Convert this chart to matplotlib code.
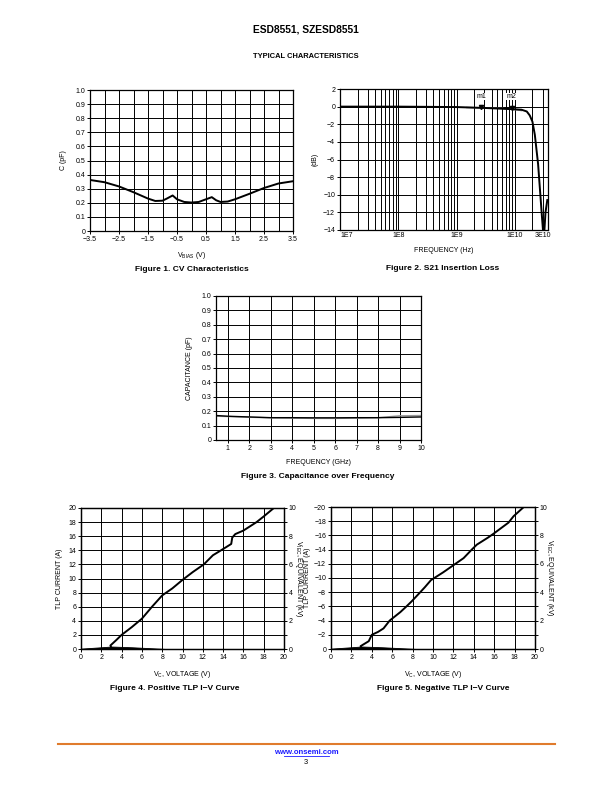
import numpy as np
import matplotlib
matplotlib.use('Agg')
import matplotlib.pyplot as plt
from matplotlib.ticker import MultipleLocator, FixedLocator, NullFormatter, LogLocator

plt.rcParams['font.family'] = ['Liberation Sans', 'DejaVu Sans']
plt.rcParams['axes.unicode_minus'] = True

# Figure 1: CV characteristics
cv_v = [-3.5, -3.0, -2.5, -2.0, -1.5, -1.25, -1.0, -0.85, -0.65, -0.5, -0.25, 0.0,
        0.25, 0.5, 0.7, 0.85, 1.0, 1.25, 1.5, 2.0, 2.5, 3.0, 3.5]
cv_c = [0.362, 0.346, 0.316, 0.275, 0.230, 0.213, 0.215, 0.230, 0.252, 0.225, 0.206, 0.202,
        0.206, 0.225, 0.240, 0.218, 0.206, 0.209, 0.225, 0.264, 0.305, 0.337, 0.353]

# Figure 2: S21 insertion loss
s21_f = [1e7, 1e8, 1e9, 3e9, 1e10, 1.3e10, 1.6e10, 1.8e10, 2.0e10, 2.2e10, 2.5e10,
         2.7e10, 2.9e10, 3.05e10, 3.2e10, 3.35e10, 3.6e10]
s21_db = [0.0, 0.0, -0.05, -0.15, -0.3, -0.35, -0.55, -1.0, -1.7, -3.2, -6.5,
          -9.5, -12.3, -14.2, -14.2, -12.0, -10.6]
s21_gray_f = [1.5e9, 3e9, 6e9, 1e10, 1.3e10]
s21_gray_db = [-0.1, -0.15, -0.2, -0.35, -0.45]
marker_f = [2.66e9, 8.8e9]
marker_db = [-0.05, -0.2]
marker_names = ['m1', 'm2']

# Figure 3: capacitance over frequency
cf_ghz = [0.45, 1, 2, 3, 4, 5, 6, 7, 8, 9, 10]
cf_black = [0.170, 0.165, 0.160, 0.155, 0.155, 0.154, 0.154, 0.155, 0.155, 0.157, 0.160]
cf_gray = [0.165, 0.163, 0.158, 0.154, 0.152, 0.150, 0.150, 0.152, 0.155, 0.168, 0.170]

# Figure 4: positive TLP I-V
pos_v = [3.0, 2.9, 3.5, 4.0, 5.0, 6.0, 7.0, 8.0, 9.0, 10.0, 11.0, 12.1, 13.0, 13.8,
         14.8, 14.9, 15.2, 16.0, 17.3, 18.0, 19.0]
pos_i = [0.1, 0.5, 1.3, 2.0, 3.1, 4.3, 6.0, 7.6, 8.6, 9.8, 10.9, 12.0, 13.3, 14.0,
         14.9, 15.8, 16.3, 16.8, 18.0, 18.8, 20.0]

# Figure 5: negative TLP I-V
neg_v = [3.0, 2.9, 3.7, 4.0, 4.6, 5.15, 5.75, 6.8, 7.4, 7.9, 8.75, 9.2, 9.8, 11.0,
         12.0, 13.0, 13.8, 14.3, 15.4, 15.9, 17.4, 17.9, 18.9]
neg_i = [-0.1, -0.4, -1.1, -2.0, -2.4, -2.9, -4.0, -5.2, -6.0, -6.7, -8.0, -8.7, -9.7,
         -10.8, -11.8, -12.8, -14.0, -14.7, -15.7, -16.2, -17.8, -18.7, -20.0]

# leakage wedge at the bottom of both TLP plots
leak_v = [0.0, 3.0, 5.0, 8.4]
leak_top = [0.05, 0.35, 0.25, 0.0]

W, H = 612, 792
fig = plt.figure(figsize=(W / 100, H / 100), dpi=100)

TS = 5.0
LW = 1.4
GW = 0.7


def add_ax(x0, x1, y0, y1):
    ax = fig.add_axes([x0 / W, 1 - y1 / H, (x1 - x0) / W, (y1 - y0) / H])
    for s in ax.spines.values():
        s.set_linewidth(0.9)
    ax.tick_params(labelsize=TS, length=2, width=0.7, pad=1.5)
    ax.tick_params(which='minor', length=0)
    return ax


def ptext(x, y, s, **kw):
    fig.text(x / W, 1 - y / H, s, **kw)


# header
ptext(306, 30, 'ESD8551, SZESD8551', ha='center', va='center', fontsize=7.4, fontweight='bold')
ptext(306, 57, 'TYPICAL CHARACTERISTICS', ha='center', va='center', fontsize=5.4, fontweight='bold')

# ---- Figure 1
ax1 = add_ax(90, 293, 90, 231)
ax1.plot(cv_v, cv_c, color='black', lw=LW)
ax1.set_xlim(-3.5, 3.5)
ax1.set_ylim(0, 1.0)
ax1.xaxis.set_minor_locator(MultipleLocator(0.5))
ax1.set_xticks(np.arange(-3.5, 3.6, 1.0))
ax1.set_xticklabels(['\u22123.5', '\u22122.5', '\u22121.5', '\u22120.5', '0.5', '1.5', '2.5', '3.5'])
ax1.set_yticks(np.arange(0, 1.01, 0.1))
ax1.set_yticklabels(['0'] + ['%.1f' % v for v in np.arange(0.1, 1.01, 0.1)])
ax1.grid(True, which='both', color='black', lw=GW)
ax1.set_xlabel(r'V$_\mathregular{BIAS}$ (V)', fontsize=TS, labelpad=5)
ax1.set_ylabel('C (pF)', fontsize=TS, labelpad=6)
ptext(192, 270, 'Figure 1. CV Characteristics', ha='center', va='center', fontsize=6, fontweight='bold')

# ---- Figure 2
ax2 = add_ax(340, 548, 89, 230)
ax2.set_xscale('log')
ax2.plot(s21_gray_f, s21_gray_db, color='#888888', lw=1.0)
ax2.plot(s21_f, s21_db, color='black', lw=LW)
ax2.plot(marker_f, marker_db, 'v', color='black', ms=3)
for f, name in zip(marker_f, marker_names):
    ax2.text(f, 1.15, name, ha='center', va='center', fontsize=TS,
             bbox=dict(facecolor='white', edgecolor='none', pad=0.3))
ax2.set_xlim(1e7, 3.7e10)
ax2.set_ylim(-14, 2)
ax2.set_yticks(np.arange(-14, 2.1, 2))
ax2.xaxis.set_major_locator(FixedLocator([1e7, 1e8, 1e9, 1e10, 3e10]))
ax2.set_xticklabels(['1E7', '1E8', '1E9', '1E10', '3E10'])
ax2.xaxis.set_minor_locator(LogLocator(base=10, subs=np.arange(2, 10)))
ax2.xaxis.set_minor_formatter(NullFormatter())
ax2.tick_params(axis='x', length=0)
ax2.get_xticklabels()[0].set_horizontalalignment('left')
ax2.grid(True, which='both', color='black', lw=GW)
ax2.set_xlabel('FREQUENCY (Hz)', fontsize=TS, labelpad=6)
ax2.set_ylabel('(dB)', fontsize=TS, labelpad=3)
ptext(443, 269, 'Figure 2. S21 Insertion Loss', ha='center', va='center', fontsize=6, fontweight='bold')

# ---- Figure 3
ax3 = add_ax(216, 421, 296, 440)
ax3.plot(cf_ghz, cf_gray, color='#999999', lw=1.0)
ax3.plot(cf_ghz, cf_black, color='black', lw=1.0)
ax3.set_xlim(0.45, 10)
ax3.set_ylim(0, 1.0)
ax3.set_xticks(range(1, 11))
ax3.set_yticks(np.arange(0, 1.01, 0.1))
ax3.set_yticklabels(['0'] + ['%.1f' % v for v in np.arange(0.1, 1.01, 0.1)])
ax3.grid(True, color='black', lw=GW)
ax3.set_xlabel('FREQUENCY (GHz)', fontsize=TS, labelpad=5)
ax3.set_ylabel('CAPACITANCE (pF)', fontsize=TS, labelpad=6)
ptext(318, 476, 'Figure 3. Capacitance over Frequency', ha='center', va='center', fontsize=6, fontweight='bold')


def tlp_axes(x0, x1, y0, y1, neg):
    ax = add_ax(x0, x1, y0, y1)
    ax.set_xlim(0, 20)
    ax.set_xticks(range(0, 21, 2))
    if neg:
        ax.set_ylim(0, -20)
        ax.set_yticks(range(0, -21, -2))
    else:
        ax.set_ylim(0, 20)
        ax.set_yticks(range(0, 21, 2))
    ax.grid(True, color='black', lw=GW)
    axr = ax.twinx()
    axr.set_ylim(0, 10)
    axr.set_yticks(range(0, 11, 2))
    axr.yaxis.set_minor_locator(MultipleLocator(1))
    axr.tick_params(labelsize=TS, length=2, width=0.7, pad=1.5)
    axr.tick_params(which='minor', length=2, width=0.7)
    for s in axr.spines.values():
        s.set_linewidth(0.9)
    return ax, axr


# ---- Figure 4
ax4, ax4r = tlp_axes(81, 284, 508, 649, False)
ax4.plot(pos_v, pos_i, color='black', lw=LW)
ax4.fill_between(leak_v, 0, leak_top, color='black', lw=0.6, clip_on=False)
ax4.set_xlabel(r'V$_\mathregular{C}$, VOLTAGE (V)', fontsize=TS, labelpad=6)
ax4.set_ylabel('TLP CURRENT (A)', fontsize=TS, labelpad=4)
ax4r.set_ylabel(r'V$_\mathregular{IEC}$, EQUIVALENT (kV)', fontsize=TS, rotation=-90, labelpad=5)
ptext(175, 688, 'Figure 4. Positive TLP I\u2212V Curve', ha='center', va='center', fontsize=6, fontweight='bold')

# ---- Figure 5
ax5, ax5r = tlp_axes(331, 535, 507, 649, True)
ax5.plot(neg_v, neg_i, color='black', lw=LW)
ax5.fill_between(leak_v, 0, [-v for v in leak_top], color='black', lw=0.6, clip_on=False)
ax5.set_xlabel(r'V$_\mathregular{C}$, VOLTAGE (V)', fontsize=TS, labelpad=6)
ax5.set_ylabel('TLP CURRENT (A)', fontsize=TS, labelpad=2)
ax5r.set_ylabel(r'V$_\mathregular{IEC}$, EQUIVALENT (kV)', fontsize=TS, rotation=-90, labelpad=5)
ptext(443, 688, 'Figure 5. Negative TLP I\u2212V Curve', ha='center', va='center', fontsize=6, fontweight='bold')

# footer
fig.add_artist(plt.Line2D([58 / W, 555 / W], [1 - 744 / H, 1 - 744 / H], color='#E07B2C', lw=1.5))
ptext(306, 752, 'www.onsemi.com', ha='center', va='center', fontsize=5.6, color='#1a1aff',
      fontweight='bold')
fig.add_artist(plt.Line2D([284 / W, 329 / W], [1 - 756 / H, 1 - 756 / H], color='#1a1aff', lw=0.6))
ptext(306, 762, '3', ha='center', va='center', fontsize=5.4)

fig.savefig('out.png', dpi=100)
